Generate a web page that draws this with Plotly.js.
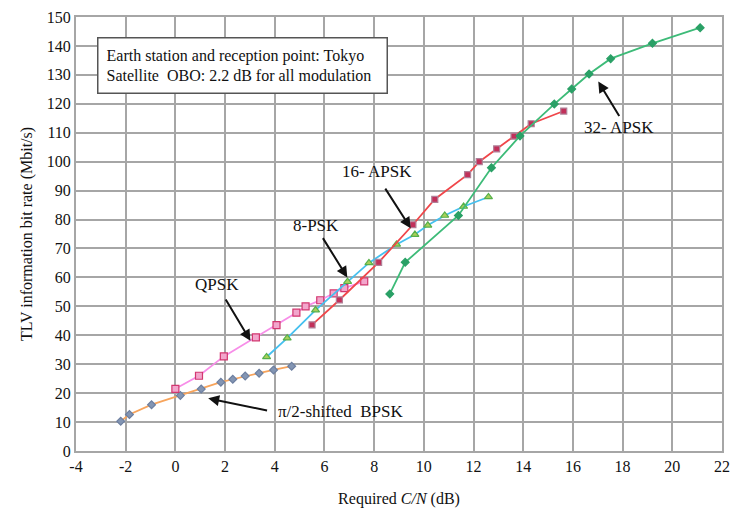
<!DOCTYPE html>
<html>
<head>
<meta charset="utf-8">
<script src="https://cdn.plot.ly/plotly-3.0.1.min.js"></script>
<style>html,body{margin:0;padding:0;background:#fff;font-family:'Liberation Serif',serif}#chart{width:731px;height:508px}</style>
</head>
<body>
<div id="chart"></div>
<script>
// ---- data ----
var bpskX = [-2.2, -1.85, -0.96, 0.2, 1.04, 1.83, 2.31, 2.81, 3.37, 3.95, 4.68];
var bpskY = [10.3, 12.6, 16.0, 19.2, 21.4, 23.8, 24.8, 25.9, 26.9, 28.0, 29.3];

var qpskX = [0, 0.95, 1.95, 3.24, 4.07, 4.87, 5.24, 5.83, 6.37, 6.8, 7.6];
var qpskY = [21.5, 26.0, 32.7, 39.3, 43.5, 47.8, 50.0, 52.1, 54.5, 56.3, 58.6];

var psk8X = [3.67, 4.5, 5.64, 6.93, 7.79, 8.9, 9.64, 10.16, 10.84, 11.6, 12.6];
var psk8Y = [32.5, 39.0, 48.7, 58.5, 65.0, 71.4, 74.8, 78.0, 81.4, 84.5, 87.8];

var apsk16X = [5.5, 6.6, 8.18, 9.56, 10.44, 11.76, 12.23, 12.93, 13.63, 14.32, 15.63];
var apsk16Y = [43.6, 52.2, 65.2, 78.2, 87.0, 95.5, 100.0, 104.4, 108.8, 113.1, 117.5];

var apsk32X = [8.63, 9.25, 11.39, 12.72, 13.87, 15.25, 15.95, 16.65, 17.52, 19.2, 21.12];
var apsk32Y = [54.3, 65.2, 81.4, 97.9, 108.9, 119.9, 125.1, 130.3, 135.6, 140.9, 146.3];

var xTicks = [-4, -2, 0, 2, 4, 6, 8, 10, 12, 14, 16, 18, 20, 22];
var yTicks = [0, 10, 20, 30, 40, 50, 60, 70, 80, 90, 100, 110, 120, 130, 140, 150];

var serif = 'Times New Roman, Liberation Serif, DejaVu Serif, serif';

function series(x, y, lineColor, sym, fill, border, size) {
  return {
    x: x, y: y, type: 'scatter', mode: 'lines+markers',
    line: {color: lineColor, width: 1.8},
    marker: {symbol: sym, size: size, color: fill, line: {color: border, width: 1.2}},
    showlegend: false, hoverinfo: 'skip'
  };
}

var traces = [
  series(bpskX, bpskY, '#f7a45c', 'diamond', '#8395b3', '#6d7fa0', 6),
  series(qpskX, qpskY, '#f78ee8', 'square', '#f2a6cc', '#d2376f', 7),
  series(psk8X, psk8Y, '#45c0ef', 'triangle-up', '#a8cf5a', '#56b04a', 7),
  series(apsk16X, apsk16Y, '#f0464a', 'square', '#c2305a', '#b08098', 6),
  series(apsk32X, apsk32Y, '#3dbb78', 'diamond', '#2aa066', '#2aa066', 6)
];

function arrow(x, y, ax, ay) {
  return {x: x, y: y, ax: ax, ay: ay, xref: 'x', yref: 'y', axref: 'x', ayref: 'y',
          text: '', showarrow: true, arrowhead: 2, arrowsize: 1.1, arrowwidth: 2, arrowcolor: '#111'};
}
function label(x, y, t) {
  return {x: x, y: y, xref: 'x', yref: 'y', text: t, showarrow: false,
          font: {family: serif, size: 17, color: '#111'}};
}

var layout = {
  width: 731, height: 508,
  margin: {l: 76, r: 9, t: 17, b: 57},
  paper_bgcolor: '#fff', plot_bgcolor: '#fff',
  font: {family: serif, size: 16, color: '#111'},
  xaxis: {
    range: [-4, 22], tickvals: xTicks, ticktext: xTicks.map(String),
    showgrid: true, gridcolor: '#a6a6a6', gridwidth: 2,
    showline: true, linecolor: '#a6a6a6', linewidth: 2, mirror: true,
    zeroline: false, ticks: '', tickfont: {family: serif, size: 16},
    title: {text: 'Required <i>C/N</i> (dB)', font: {family: serif, size: 16}, standoff: 22}
  },
  yaxis: {
    range: [0, 150], tickvals: yTicks,
    showgrid: true, gridcolor: '#a6a6a6', gridwidth: 2,
    showline: true, linecolor: '#a6a6a6', linewidth: 2, mirror: true,
    zeroline: false, ticks: '', tickfont: {family: serif, size: 16},
    title: {text: 'TLV information bit rate (Mbit/s)', font: {family: serif, size: 16}, standoff: 10}
  },
  annotations: [
    {x: -3.17, y: 143.2, xref: 'x', yref: 'y', xanchor: 'left', yanchor: 'top', align: 'left',
     text: 'Earth station and reception point: Tokyo<br>Satellite  OBO: 2.2 dB for all modulation',
     showarrow: false, bgcolor: '#fff', bordercolor: '#555', borderwidth: 1.5, borderpad: 8,
     width: 272, font: {family: serif, size: 16, color: '#111'}},
    label(1.67, 57.4, 'QPSK'), arrow(3.02, 38.1, 1.99, 52.9),
    label(5.66, 77.8, '8-PSK'), arrow(6.92, 60.0, 5.9, 74.1),
    label(8.1, 96.5, '16- APSK'), arrow(9.47, 77.0, 8.41, 91.2),
    label(17.85, 111.8, '32- APSK'), arrow(17.02, 127.7, 17.9, 115.3),
    label(6.66, 13.6, 'π/2-shifted  BPSK'), arrow(1.32, 18.2, 3.75, 13.9)
  ]
};

Plotly.newPlot('chart', traces, layout, {staticPlot: true, displayModeBar: false});
</script>
</body>
</html>
